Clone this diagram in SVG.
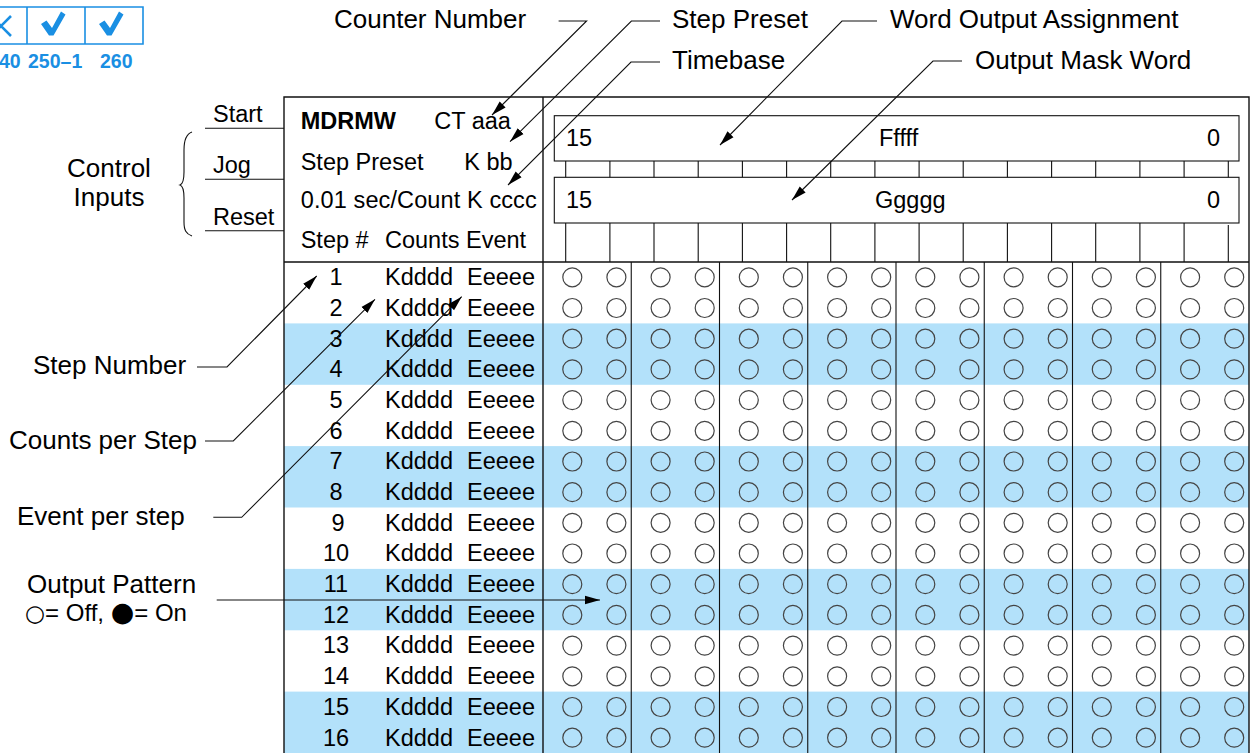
<svg xmlns="http://www.w3.org/2000/svg" xmlns:xlink="http://www.w3.org/1999/xlink" width="1253" height="753" viewBox="0 0 1253 753">
<style>
text{font-family:"Liberation Sans",Arial,Helvetica,sans-serif;fill:#000}
.t{font-size:23.5px}
.a{font-size:26px}
.b{font-weight:bold}
.blue{fill:#1a8fe3;font-weight:bold;font-size:19.5px}
.ln{stroke:#111;stroke-width:1.4;fill:none}
.thin{stroke:#111;stroke-width:1.1;fill:none}
.con{stroke:#111;stroke-width:1.1;fill:none}
.band{fill:#b3e1fa}
.c{fill:none;stroke:#444;stroke-width:1.2}
.bx{stroke:#1a8fe3;stroke-width:1.6;fill:none}
.sym{font-family:"DejaVu Sans",sans-serif}
</style>
<defs>
<marker id="ah" markerWidth="16" markerHeight="10" refX="15" refY="5" orient="auto" markerUnits="userSpaceOnUse">
<path d="M0,0.8 L15,5 L0,9.2 z" fill="#000"/>
</marker>
<g id="crow">
<circle class="c" cx="572.3" cy="0" r="9.5"/><circle class="c" cx="616.4" cy="0" r="9.5"/>
<circle class="c" cx="660.6" cy="0" r="9.5"/><circle class="c" cx="704.7" cy="0" r="9.5"/>
<circle class="c" cx="748.8" cy="0" r="9.5"/><circle class="c" cx="792.9" cy="0" r="9.5"/>
<circle class="c" cx="837.1" cy="0" r="9.5"/><circle class="c" cx="881.2" cy="0" r="9.5"/>
<circle class="c" cx="925.3" cy="0" r="9.5"/><circle class="c" cx="969.4" cy="0" r="9.5"/>
<circle class="c" cx="1013.6" cy="0" r="9.5"/><circle class="c" cx="1057.7" cy="0" r="9.5"/>
<circle class="c" cx="1101.8" cy="0" r="9.5"/><circle class="c" cx="1145.9" cy="0" r="9.5"/>
<circle class="c" cx="1190.1" cy="0" r="9.5"/><circle class="c" cx="1234.2" cy="0" r="9.5"/>
</g>
</defs>
<rect width="1253" height="753" fill="#fff"/>

<g id="compat">
<path class="bx" d="M0,7 H143 V44 H0 M27,7 V44 M85,7 V44"/>
<path d="M-9,16 L11,36 M-9,36 L11,16" stroke="#1a8fe3" stroke-width="2.6" fill="none"/>
<path d="M41,24 L46.5,20.5 L52,28 L61,11.5 L65.5,14.5 L53.5,35.5 L49,35.5 z" fill="#1a8fe3"/>
<path d="M99,24 L104.5,20.5 L110,28 L119,11.5 L123.5,14.5 L111.5,35.5 L107,35.5 z" fill="#1a8fe3"/>
<text class="blue" x="-1" y="68">40</text>
<text class="blue" x="28" y="68">250–1</text>
<text class="blue" x="100" y="68">260</text>
</g>

<g id="bands">
<rect class="band" x="284" y="323.4" width="965" height="61.4"/>
<rect class="band" x="284" y="446.1" width="965" height="61.4"/>
<rect class="band" x="284" y="568.9" width="965" height="61.4"/>
<rect class="band" x="284" y="691.6" width="965" height="61.4"/>
</g>

<g id="frame">
<path class="ln" d="M284,753 V97 H1249 V753 M543,97 V753 M284,262 H1249"/>
<path class="thin" d="M631.25,262 V753 M719.5,262 V753 M807.75,262 V753 M896,262 V753 M984.25,262 V753 M1072.5,262 V753 M1160.75,262 V753"/>
</g>

<g id="header">
<text class="t b" x="300.7" y="129">MDRMW</text>
<text class="t" x="434.3" y="129">CT aaa</text>
<text class="t" x="300.7" y="170">Step Preset</text>
<text class="t" x="464.3" y="170">K bb</text>
<text class="t" x="300.7" y="208" textLength="236" lengthAdjust="spacing">0.01 sec/Count K cccc</text>
<text class="t" x="300.7" y="248">Step #</text>
<text class="t" x="385" y="248">Counts Event</text>
</g>

<g id="word-boxes">
<rect class="thin" x="554.3" y="115.7" width="684.7" height="45.3" fill="#fff"/>
<rect class="thin" x="554.3" y="177.3" width="684.7" height="45.7" fill="#fff"/>
<path class="thin" d="M565.7,161 V177.3 M609.9,161 V177.3 M654,161 V177.3 M698.2,161 V177.3 M742.4,161 V177.3 M786.6,161 V177.3 M830.7,161 V177.3 M874.9,161 V177.3 M919.1,161 V177.3 M963.2,161 V177.3 M1007.4,161 V177.3 M1051.6,161 V177.3 M1095.7,161 V177.3 M1139.9,161 V177.3 M1184.1,161 V177.3 M1228.3,161 V177.3"/>
<path class="thin" d="M565.7,223 V262 M609.9,223 V262 M654,223 V262 M698.2,223 V262 M742.4,223 V262 M786.6,223 V262 M830.7,223 V262 M874.9,223 V262 M919.1,223 V262 M963.2,223 V262 M1007.4,223 V262 M1051.6,223 V262 M1095.7,223 V262 M1139.9,223 V262 M1184.1,223 V262 M1228.3,225 V262"/>
<text class="t" x="566" y="146">15</text>
<text class="t" x="879" y="146">Fffff</text>
<text class="t" x="1207" y="146">0</text>
<text class="t" x="566" y="208">15</text>
<text class="t" x="875" y="208">Ggggg</text>
<text class="t" x="1207" y="208">0</text>
</g>

<g id="steps" class="t">
<text x="336" y="285.1" text-anchor="middle">1</text><text x="385" y="285.1">Kdddd</text><text x="467" y="285.1">Eeeee</text>
<text x="336" y="315.8" text-anchor="middle">2</text><text x="385" y="315.8">Kdddd</text><text x="467" y="315.8">Eeeee</text>
<text x="336" y="346.5" text-anchor="middle">3</text><text x="385" y="346.5">Kdddd</text><text x="467" y="346.5">Eeeee</text>
<text x="336" y="377.2" text-anchor="middle">4</text><text x="385" y="377.2">Kdddd</text><text x="467" y="377.2">Eeeee</text>
<text x="336" y="407.9" text-anchor="middle">5</text><text x="385" y="407.9">Kdddd</text><text x="467" y="407.9">Eeeee</text>
<text x="336" y="438.6" text-anchor="middle">6</text><text x="385" y="438.6">Kdddd</text><text x="467" y="438.6">Eeeee</text>
<text x="336" y="469.3" text-anchor="middle">7</text><text x="385" y="469.3">Kdddd</text><text x="467" y="469.3">Eeeee</text>
<text x="336" y="500" text-anchor="middle">8</text><text x="385" y="500">Kdddd</text><text x="467" y="500">Eeeee</text>
<text x="338" y="530.6" text-anchor="middle">9</text><text x="385" y="530.6">Kdddd</text><text x="467" y="530.6">Eeeee</text>
<text x="336" y="561.3" text-anchor="middle">10</text><text x="385" y="561.3">Kdddd</text><text x="467" y="561.3">Eeeee</text>
<text x="336" y="592" text-anchor="middle">11</text><text x="385" y="592">Kdddd</text><text x="467" y="592">Eeeee</text>
<text x="336" y="622.7" text-anchor="middle">12</text><text x="385" y="622.7">Kdddd</text><text x="467" y="622.7">Eeeee</text>
<text x="336" y="653.4" text-anchor="middle">13</text><text x="385" y="653.4">Kdddd</text><text x="467" y="653.4">Eeeee</text>
<text x="336" y="684.1" text-anchor="middle">14</text><text x="385" y="684.1">Kdddd</text><text x="467" y="684.1">Eeeee</text>
<text x="336" y="714.8" text-anchor="middle">15</text><text x="385" y="714.8">Kdddd</text><text x="467" y="714.8">Eeeee</text>
<text x="336" y="745.5" text-anchor="middle">16</text><text x="385" y="745.5">Kdddd</text><text x="467" y="745.5">Eeeee</text>
</g>

<g id="pattern">
<use xlink:href="#crow" href="#crow" y="277.3"/>
<use xlink:href="#crow" href="#crow" y="308"/>
<use xlink:href="#crow" href="#crow" y="338.7"/>
<use xlink:href="#crow" href="#crow" y="369.4"/>
<use xlink:href="#crow" href="#crow" y="400.1"/>
<use xlink:href="#crow" href="#crow" y="430.8"/>
<use xlink:href="#crow" href="#crow" y="461.5"/>
<use xlink:href="#crow" href="#crow" y="492.2"/>
<use xlink:href="#crow" href="#crow" y="522.8"/>
<use xlink:href="#crow" href="#crow" y="553.5"/>
<use xlink:href="#crow" href="#crow" y="584.2"/>
<use xlink:href="#crow" href="#crow" y="614.9"/>
<use xlink:href="#crow" href="#crow" y="645.6"/>
<use xlink:href="#crow" href="#crow" y="676.3"/>
<use xlink:href="#crow" href="#crow" y="707"/>
<use xlink:href="#crow" href="#crow" y="737.7"/>
</g>

<g id="control-inputs">
<path class="thin" d="M205,128.3 H284 M205,179.3 H284 M205,230.7 H284"/>
<text class="t" x="213" y="122">Start</text>
<text class="t" x="213" y="173">Jog</text>
<text class="t" x="213" y="225">Reset</text>
<path class="thin" d="M192,132 C186,134 184,140 184,150 L184,172 C184,180 183,184 180,185 C183,186 184,190 184,198 L184,222 C184,230 186,234 192,236"/>
<text class="a" x="109" y="177" text-anchor="middle">Control</text>
<text class="a" x="109" y="206" text-anchor="middle">Inputs</text>
</g>

<g id="labels">
<text class="a" x="334" y="28">Counter Number</text>
<text class="a" x="672" y="28">Step Preset</text>
<text class="a" x="672" y="69">Timebase</text>
<text class="a" x="890" y="28">Word Output Assignment</text>
<text class="a" x="975" y="69">Output Mask Word</text>
<text class="a" x="33" y="374">Step Number</text>
<text class="a" x="9" y="449">Counts per Step</text>
<text class="a" x="17" y="525">Event per step</text>
<text class="a" x="27" y="593">Output Pattern</text>
<text x="25" y="621" style="font-size:24px"><tspan class="sym" style="font-size:23px">○</tspan>= Off, <tspan class="sym" style="font-size:27px">●</tspan>= On</text>
</g>

<g id="connectors">
<path class="con" marker-end="url(#ah)" d="M558.6,21 H586.6 L492,115"/>
<path class="con" marker-end="url(#ah)" d="M660,21 H631.4 L510,141.7"/>
<path class="con" marker-end="url(#ah)" d="M660,62 H631 L508,185"/>
<path class="con" marker-end="url(#ah)" d="M877,21 H842 L720,145"/>
<path class="con" marker-end="url(#ah)" d="M962,61 H933 L792,200"/>
<path class="con" marker-end="url(#ah)" d="M197,367 H227 L316.7,276"/>
<path class="con" marker-end="url(#ah)" d="M205,441 H233.3 L375,299.3"/>
<path class="con" marker-end="url(#ah)" d="M213.3,517.3 H241.7 L461.7,296.7"/>
<path class="con" marker-end="url(#ah)" d="M216.7,600 H600"/>
</g>
</svg>
